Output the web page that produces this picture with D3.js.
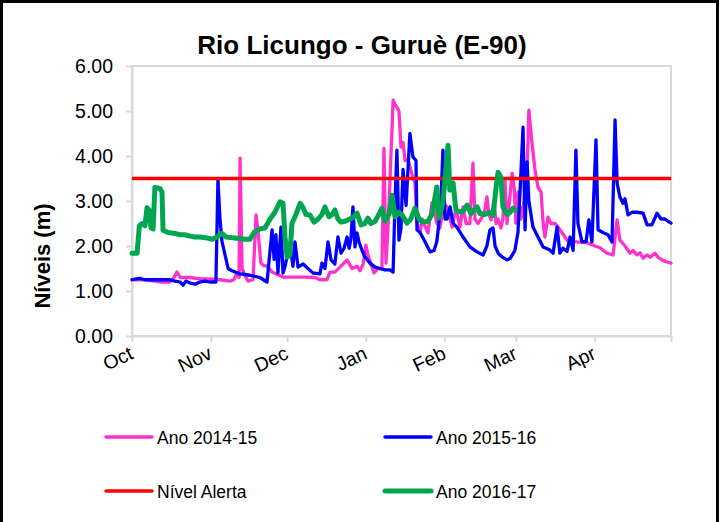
<!DOCTYPE html>
<html>
<head>
<meta charset="utf-8">
<script src="https://cdn.jsdelivr.net/npm/d3@7"></script>
<style>
  html, body { margin: 0; padding: 0; background: #fff; }
  svg { display: block; font-family: "Liberation Sans", Arial, sans-serif; }
</style>
</head>
<body>
<svg id="chart" width="720" height="522"></svg>
<script>
// ---- Data (day index from 1 Oct; levels in metres) ----
const monthLabels = ["Oct", "Nov", "Dec", "Jan", "Feb", "Mar", "Apr", ""];
const monthStartDays = [0, 31, 61, 92, 123, 151, 182, 212];
const yTicks = [0, 1, 2, 3, 4, 5, 6];

const alertLevel = 3.5;

const days2014 = [0,5.1,9.0,11.0,14.9,16.5,17.7,18.9,22.8,26.7,30.7,34.6,38.5,40.1,41.3,42.1,42.5,43.3,44.4,45.6,47.6,48.8,49.6,50.7,51.9,53.1,55.1,59.4,64.1,68.0,72.0,73.9,76.7,77.9,79.8,81.8,83.0,84.6,86.5,88.5,89.7,90.9,92.0,92.8,94.4,95.2,96.8,98.3,99.1,99.9,100.7,101.5,102.7,103.4,104.2,105.0,105.8,106.6,107.4,108.6,110.1,111.3,112.1,113.3,114.1,115.2,116.4,118.0,118.8,119.9,121.1,122.3,123.5,125.1,125.9,127.0,127.8,129.0,130.2,131.4,132.9,134.1,134.9,136.1,137.7,138.8,139.6,140.4,141.2,142.4,143.2,144.0,145.1,145.9,146.7,147.5,148.3,149.5,150.3,151.0,151.8,153.0,154.2,155.4,156.1,157.3,158.5,159.7,160.9,161.7,162.4,163.6,164.8,166.4,167.6,169.1,171.1,173.1,175.0,178.2,180.1,182.1,184.1,186.8,189.2,190.8,191.9,193.9,195.9,197.1,198.6,199.8,201.0,202.6,203.8,205.7,206.9,208.5,210.1,212.0];
const level2014 = [1.25,1.25,1.22,1.2,1.2,1.3,1.42,1.3,1.3,1.27,1.27,1.25,1.22,1.25,1.4,1.3,3.95,1.5,1.35,1.22,1.25,2.69,2.3,1.62,1.56,1.56,1.42,1.31,1.31,1.31,1.3,1.25,1.25,1.42,1.42,1.53,1.6,1.69,1.5,1.55,1.45,1.6,2.02,1.8,1.53,1.4,1.5,1.5,4.17,1.62,2.42,3.5,5.24,5.15,5.09,5.0,4.2,4.3,3.9,3.91,3.6,3.4,2.51,2.3,2.6,2.45,2.29,2.96,2.8,2.51,2.4,2.8,2.9,2.6,2.42,2.73,2.73,2.42,2.87,2.5,2.5,3.84,2.6,2.5,2.64,2.8,3.09,2.7,2.58,3.0,2.5,2.6,2.4,2.6,3.47,2.5,2.9,3.62,3.3,2.51,3.2,2.6,3.0,3.69,5.02,4.3,3.7,3.3,3.2,2.51,2.2,2.64,2.5,2.5,2.42,2.3,2.13,2.1,2.09,2.08,2.05,2.0,1.96,1.84,1.8,2.58,2.13,2.0,1.84,1.9,1.8,1.85,1.73,1.8,1.75,1.84,1.75,1.69,1.65,1.62];

const days2015 = [0,1.6,3.1,5.1,7.1,11.0,14.9,16.9,18.9,20.1,21.2,22.8,24.8,26.7,28.7,30.7,33.0,33.4,33.8,34.6,35.4,36.6,37.8,39.3,42.5,46.4,50.3,53.1,55.1,55.9,56.6,57.4,58.6,59.4,60.2,62.1,63.3,64.1,65.3,67.3,69.2,71.2,73.9,74.7,75.9,77.1,78.3,79.8,81.0,82.2,83.4,84.6,85.4,86.1,86.9,87.7,88.5,89.3,90.5,91.6,93.6,95.6,97.5,99.5,101.5,102.7,103.4,104.2,105.0,105.8,106.6,107.8,109.3,110.5,111.7,112.1,113.3,115.2,117.2,118.8,119.9,120.7,121.5,122.3,123.1,123.9,125.1,126.3,127.8,130.2,132.9,135.7,138.1,139.6,140.8,142.0,142.8,144.0,145.5,147.5,148.7,150.6,151.8,152.6,153.8,154.6,155.4,156.1,157.7,159.7,161.7,164.4,165.6,167.2,168.3,169.5,171.1,172.3,173.5,174.6,175.4,177.0,178.6,179.7,180.9,182.5,183.3,185.2,187.2,188.8,190.0,190.8,191.9,193.1,193.9,195.1,196.7,198.6,201.0,202.6,204.5,206.5,208.1,209.6,210.8,212.0];
const level2015 = [1.25,1.27,1.28,1.25,1.25,1.25,1.25,1.22,1.2,1.13,1.22,1.18,1.15,1.2,1.22,1.2,1.2,2.3,3.47,2.6,2.1,1.8,1.5,1.45,1.38,1.35,1.3,1.2,2.36,1.7,2.25,1.4,2.42,1.4,1.55,2.07,1.55,2.09,1.53,1.6,1.5,1.4,1.38,1.62,1.5,2.09,1.69,1.6,2.2,1.84,1.95,2.2,1.95,2.15,2.87,1.98,2.29,2.09,1.9,1.76,1.62,1.53,1.5,1.47,1.47,1.42,2.87,4.13,2.13,2.4,3.7,2.9,4.5,3.98,3.9,2.36,2.3,2.1,1.87,1.9,2.1,2.5,3.0,4.13,2.6,2.6,2.87,2.5,2.42,2.2,1.98,1.87,1.8,2.0,2.36,2.4,2.0,1.84,1.76,1.69,1.72,1.9,2.3,3.18,4.64,2.36,3.87,3.0,2.42,2.2,1.98,1.91,1.84,2.42,1.84,1.95,1.88,2.2,1.9,4.13,2.5,2.09,2.1,2.58,2.09,4.36,2.36,2.3,2.25,2.09,4.8,3.4,3.09,2.95,3.05,2.69,2.75,2.75,2.73,2.47,2.47,2.73,2.6,2.6,2.55,2.51];

const days2016 = [0,2.0,2.9,3.9,5.1,5.9,6.7,7.5,8.3,9.0,11.0,11.8,12.2,14.2,16.9,18.9,20.8,22.8,24.8,26.7,29.5,31.5,33.4,35.4,37.0,40.5,44.5,46.4,48.0,50.3,52.3,54.3,56.2,58.2,59.4,60.2,61.0,62.1,62.9,64.5,66.1,67.3,68.4,70.0,71.6,73.2,74.7,75.9,77.5,78.7,79.8,81.0,82.2,83.8,85.7,87.3,88.5,90.1,91.6,92.8,94.0,95.6,97.1,98.3,99.5,101.1,102.3,103.4,105.0,106.2,108.2,109.7,111.3,112.9,114.4,116.4,118.0,119.9,120.7,122.3,124.3,125.0,126.3,127.4,129.4,130.6,131.8,133.3,134.5,135.7,136.9,138.8,140.8,142.0,143.2,144.0,145.1,145.9,147.5,148.7,149.9,150.6];
const level2016 = [1.84,1.84,2.45,2.5,2.45,2.85,2.8,2.4,2.38,3.3,3.28,3.2,2.35,2.3,2.28,2.25,2.25,2.22,2.2,2.2,2.18,2.15,2.2,2.28,2.2,2.18,2.15,2.15,2.3,2.38,2.4,2.6,2.75,2.98,2.95,2.2,1.75,1.8,2.5,2.7,2.95,2.85,2.7,2.69,2.53,2.6,2.7,2.87,2.65,2.7,2.8,2.6,2.53,2.55,2.6,2.65,2.73,2.47,2.5,2.62,2.5,2.55,2.7,2.84,2.55,2.7,3.13,2.65,2.75,2.69,2.51,2.6,2.84,2.6,2.53,2.55,2.7,3.31,2.62,2.96,4.24,3.24,3.4,2.8,2.75,2.8,2.91,2.72,2.8,2.87,2.72,2.7,2.75,2.68,3.3,3.64,3.53,2.87,2.7,2.75,2.84,2.8];

const seriesNames = ["Ano 2014-15", "Ano 2015-16", "Nível Alerta", "Ano 2016-17"];
const seriesColors = ["#ff33cc", "#0000ff", "#ff0000", "#00a64f"];

// ---- Layout ----
const svg = d3.select("#chart");
const W = 720, H = 522;
const plot = { left: 132, right: 671, top: 66, bottom: 336 };

svg.append("rect").attr("x", 1.5).attr("y", 1.5).attr("width", W - 4).attr("height", H + 10)
  .attr("fill", "#fff").attr("stroke", "#000").attr("stroke-width", 3);

const x = d3.scaleLinear().domain([0, 212]).range([plot.left, plot.right]);
const y = d3.scaleLinear().domain([0, 6]).range([plot.bottom, plot.top]);

const gridColor = "#d9d9d9";

// plot border
svg.append("rect").attr("x", plot.left).attr("y", plot.top)
  .attr("width", plot.right - plot.left).attr("height", plot.bottom - plot.top)
  .attr("fill", "none").attr("stroke", gridColor).attr("stroke-width", 2);

// y axis
const yAxis = svg.append("g").attr("transform", `translate(${plot.left},0)`)
  .call(d3.axisLeft(y).tickValues(yTicks).tickFormat(d3.format(".2f")).tickSize(6).tickSizeOuter(0).tickPadding(13));
yAxis.selectAll("path, line").attr("stroke", gridColor).attr("stroke-width", 2);
yAxis.selectAll("text").attr("font-size", 19.5).attr("fill", "#000")
  .attr("font-family", "Liberation Sans, Arial, sans-serif");

// x axis
const xAxis = svg.append("g").attr("transform", `translate(0,${plot.bottom})`)
  .call(d3.axisBottom(x).tickValues(monthStartDays).tickFormat((d, i) => monthLabels[i]).tickSize(6).tickSizeOuter(0));
xAxis.selectAll("path, line").attr("stroke", gridColor).attr("stroke-width", 2);
xAxis.selectAll("text")
  .attr("font-size", 19.5).attr("fill", "#000")
  .attr("font-family", "Liberation Sans, Arial, sans-serif")
  .attr("text-anchor", "end")
  .attr("x", 0).attr("y", 0).attr("dy", 0)
  .attr("transform", "translate(2,22) rotate(-25)");

// lines
const line = d3.line().x(d => x(d[0])).y(d => y(d[1]));
const zip = (a, b) => a.map((v, i) => [v, b[i]]);

const g = svg.append("g").attr("fill", "none").attr("stroke-linejoin", "round").attr("stroke-linecap", "round");
g.append("path").datum(zip(days2014, level2014)).attr("d", line)
  .attr("stroke", seriesColors[0]).attr("stroke-width", 3.3);
g.append("path").datum(zip(days2015, level2015)).attr("d", line)
  .attr("stroke", seriesColors[1]).attr("stroke-width", 3.3);
g.append("path").datum([[0, alertLevel], [212, alertLevel]]).attr("d", line)
  .attr("stroke", seriesColors[2]).attr("stroke-width", 3.5).attr("stroke-linecap", "butt");
g.append("path").datum(zip(days2016, level2016)).attr("d", line)
  .attr("stroke", seriesColors[3]).attr("stroke-width", 5);

// title
svg.append("text").attr("x", 362).attr("y", 54).attr("text-anchor", "middle")
  .attr("font-size", 26).attr("font-weight", "bold").text("Rio Licungo - Guruè (E-90)");

// y title
svg.append("text").attr("transform", "translate(50,256) rotate(-90)").attr("text-anchor", "middle")
  .attr("font-size", 22).attr("font-weight", "bold").text("Níveis (m)");

// legend
const legendPos = [[106, 437], [385, 437], [106, 491], [385, 491]];
const legendWidths = [3.5, 3.5, 3.5, 5];
const lg = svg.append("g");
seriesNames.forEach((name, i) => {
  const [lx, ly] = legendPos[i];
  lg.append("line").attr("x1", lx).attr("x2", lx + 46).attr("y1", ly).attr("y2", ly)
    .attr("stroke", seriesColors[i]).attr("stroke-width", legendWidths[i]).attr("stroke-linecap", "round");
  lg.append("text").attr("x", lx + 51).attr("y", ly + 6.5).attr("font-size", 17.5).text(name);
});
</script>
</body>
</html>
